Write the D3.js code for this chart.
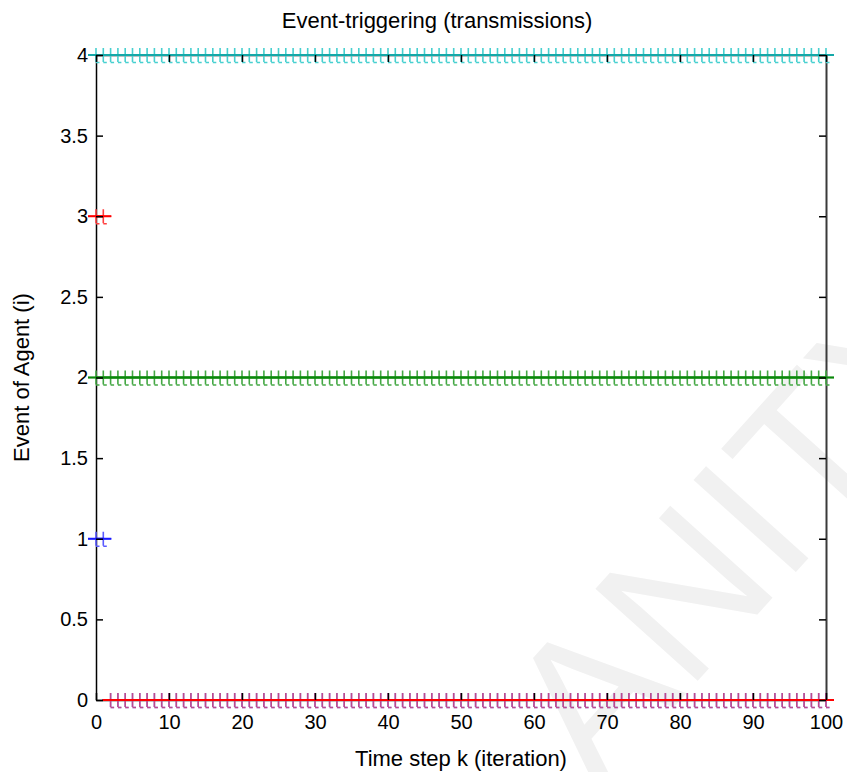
<!DOCTYPE html>
<html>
<head>
<meta charset="utf-8">
<script src="https://cdn.jsdelivr.net/npm/d3@7/dist/d3.min.js"></script>
<style>
  html, body { margin: 0; padding: 0; background: #fff; }
  svg { display: block; font-family: "Liberation Sans", Arial, sans-serif; }
</style>
</head>
<body>
<svg id="chart" width="847" height="772"></svg>
<script>
// Agents and the event level each one reports when it transmits
const agents = [1, 2, 3, 4];
const agentNames = ["Agent 1", "Agent 2", "Agent 3", "Agent 4"];

// Time-step ranges (inclusive) during which each agent transmits at its own level
const eventStart = [0, 0, 0, 0];
const eventEnd = [1, 100, 1, 100];

// Time-step ranges (inclusive) during which the agent stays silent (level 0)
const idleStart = [2, null, 2, null];
const idleEnd = [100, null, 100, null];

// Axis ticks
const xTicks = [0, 10, 20, 30, 40, 50, 60, 70, 80, 90, 100];
const yTicks = [0, 0.5, 1, 1.5, 2, 2.5, 3, 3.5, 4];

// Text
const titleText = "Event-triggering (transmissions)";
const xLabelText = "Time step k (iteration)";
const yLabelText = "Event of Agent (i)";
const markText = "ANITY";

// Styling per agent
const lineColors = ["#1a1aff", "#0a870a", "#ff0000", "#14a8a8"];
const markerColors = ["#5a5aff", "#45a845", "#ff4040", "#48d0d0"];
const idleOpacity = [1, 1, 0.6, 1];

const svg = d3.select("#chart");
const margin = { left: 96, right: 21, top: 55, bottom: 72 };
const W = 847, H = 772;

const x = d3.scaleLinear().domain([0, 100]).range([margin.left, W - margin.right]);
const y = d3.scaleLinear().domain([0, 4]).range([H - margin.bottom, margin.top]);

// Faint diagonal mark in the background, anchored on the stem of its "I"
const markAngle = -48;
const markG = svg.append("g");
const mark = markG.append("text")
  .attr("x", 0).attr("y", 0)
  .attr("font-size", 200)
  .attr("fill", "#f1f1f1")
  .text(markText);
{
  const node = mark.node();
  const ext = node.getExtentOfChar(2);
  const cx = ext.x + ext.width / 2;
  const a = markAngle * Math.PI / 180;
  const px = 802, py = 565;
  const tx = px - cx * Math.cos(a);
  const ty = py - cx * Math.sin(a);
  markG.attr("transform", `translate(${tx},${ty}) rotate(${markAngle})`);
}

// Axis domain lines and tick labels (beneath the data)
const xb = svg.append("g").attr("transform", `translate(0,${y(0)})`)
  .call(d3.axisBottom(x).tickValues(xTicks).tickSizeInner(-7).tickSizeOuter(0).tickPadding(15));
const xt = svg.append("g").attr("transform", `translate(0,${y(4)})`)
  .call(d3.axisTop(x).tickValues(xTicks).tickSizeInner(-7).tickSizeOuter(0).tickFormat(""));
const yl = svg.append("g").attr("transform", `translate(${x(0)},0)`)
  .call(d3.axisLeft(y).tickValues(yTicks).tickSizeInner(-7).tickSizeOuter(0).tickPadding(8)
    .tickFormat(d => String(d)));
const yr = svg.append("g").attr("transform", `translate(${x(100)},0)`)
  .call(d3.axisRight(y).tickValues(yTicks).tickSizeInner(-7).tickSizeOuter(0).tickFormat(""));

[xb, xt, yl, yr].forEach(g => {
  g.selectAll(".tick line").remove();
  g.select(".domain").attr("stroke", "#000").attr("stroke-width", 1.5);
  g.selectAll("text").attr("font-size", 20).attr("fill", "#000")
    .attr("font-family", "'Liberation Sans', Arial, sans-serif");
});
yr.select(".domain").attr("stroke", "#3a3a3a").attr("stroke-width", 2);

// Build point runs from the ranges
function run(k0, k1, level) {
  const pts = [];
  for (const k of d3.range(k0, k1 + 1)) pts.push({ k, v: level });
  return pts;
}

const runs = [];
// silent runs first (drawn underneath)
agents.forEach((a, i) => {
  if (idleStart[i] !== null) runs.push({ i, pts: run(idleStart[i], idleEnd[i], 0), op: idleOpacity[i] });
});
agents.forEach((a, i) => {
  runs.push({ i, pts: run(eventStart[i], eventEnd[i], a), op: 1 });
});

const line = d3.line().x(d => x(d.k)).y(d => y(d.v));
const markerPath = "M0,-7V7M-8,0H8M0,7.5H3.5";

const layer = svg.append("g");
runs.forEach(r => {
  const g = layer.append("g").attr("class", agentNames[r.i].replace(" ", "-"));
  g.selectAll("path.mk").data(r.pts).join("path")
    .attr("class", "mk")
    .attr("d", markerPath)
    .attr("transform", d => `translate(${x(d.k)},${y(d.v)})`)
    .attr("fill", "none")
    .attr("stroke", markerColors[r.i])
    .attr("stroke-opacity", r.op)
    .attr("stroke-width", 1.6);
});
// connecting lines on top of the markers, extended by the marker arm
runs.forEach(r => {
  const first = r.pts[0], last = r.pts[r.pts.length - 1];
  layer.append("line")
    .attr("x1", x(first.k) - 8).attr("x2", x(last.k) + 8)
    .attr("y1", y(first.v)).attr("y2", y(last.v))
    .attr("stroke", lineColors[r.i])
    .attr("stroke-width", 2);
  layer.append("path")
    .datum(r.pts)
    .attr("d", line)
    .attr("fill", "none")
    .attr("stroke", lineColors[r.i])
    .attr("stroke-width", 2);
});

// Tick marks drawn above the data (inward)
function ticksOnly(g, axis) {
  const t = svg.append("g").attr("transform", g.attr("transform")).call(axis);
  t.select(".domain").remove();
  t.selectAll("text").remove();
  t.selectAll(".tick line").attr("stroke", "#000").attr("stroke-width", 1.5);
}
ticksOnly(xb, d3.axisBottom(x).tickValues(xTicks).tickSizeInner(-7).tickSizeOuter(0));
ticksOnly(xt, d3.axisTop(x).tickValues(xTicks).tickSizeInner(-7).tickSizeOuter(0));
ticksOnly(yl, d3.axisLeft(y).tickValues(yTicks).tickSizeInner(-7).tickSizeOuter(0));
ticksOnly(yr, d3.axisRight(y).tickValues(yTicks).tickSizeInner(-7).tickSizeOuter(0));

// Title and axis labels
svg.append("text")
  .attr("x", 437).attr("y", 28)
  .attr("text-anchor", "middle")
  .attr("font-size", 22)
  .text(titleText);
svg.append("text")
  .attr("x", (x(0) + x(100)) / 2).attr("y", 766)
  .attr("text-anchor", "middle")
  .attr("font-size", 22)
  .text(xLabelText);
svg.append("text")
  .attr("transform", `translate(29,${(y(0) + y(4)) / 2}) rotate(-90)`)
  .attr("text-anchor", "middle")
  .attr("font-size", 22)
  .text(yLabelText);
</script>
</body>
</html>
